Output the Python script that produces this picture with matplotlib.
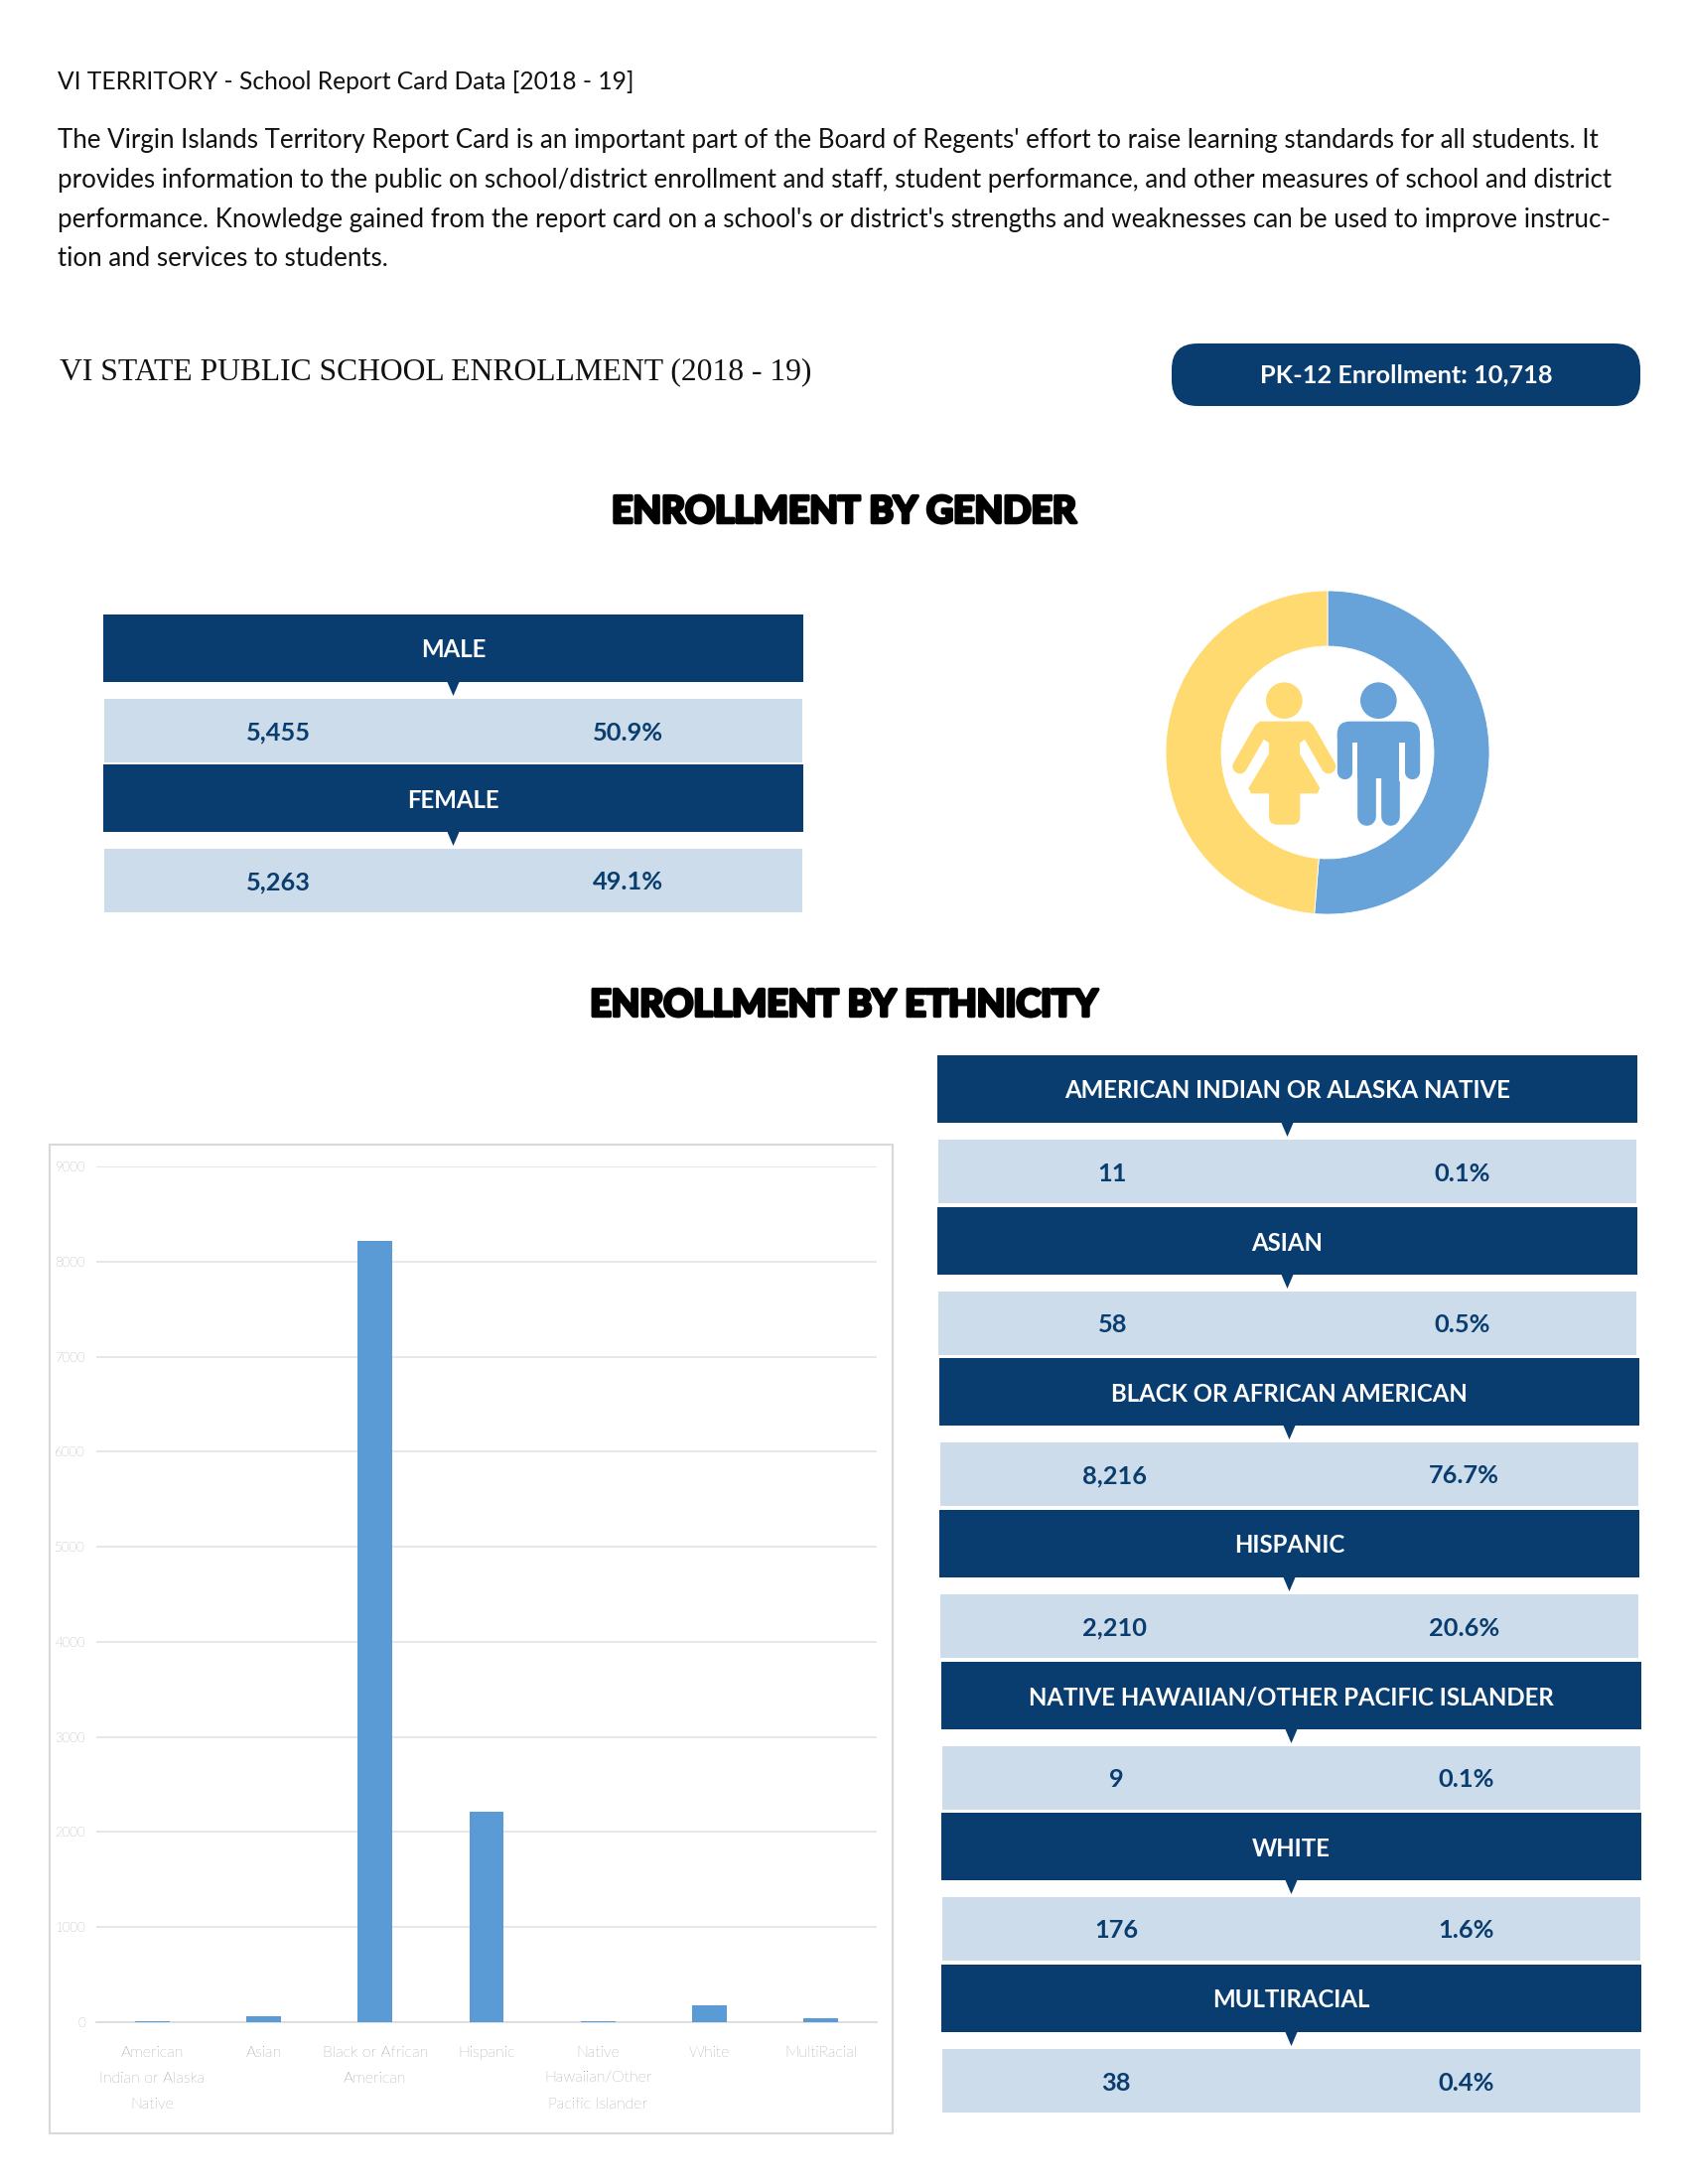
import matplotlib
matplotlib.use('Agg')
import matplotlib.pyplot as plt
import matplotlib.patheffects as pe
from matplotlib.patches import Rectangle, Polygon, Circle, FancyBboxPatch

NAVY = '#093D70'
LIGHT = '#CDDCEA'
DONUT_BLUE = '#67A2D8'
DONUT_YELLOW = '#FFDA70'
BODY = ['Lato', 'DejaVu Sans']

intro_lines = [
    "The Virgin Islands Territory Report Card is an important part of the Board of Regents' effort to raise learning standards for all students. It",
    "provides information to the public on school/district enrollment and staff, student performance, and other measures of school and district",
    "performance. Knowledge gained from the report card on a school's or district's strengths and weaknesses can be used to improve instruc-",
    "tion and services to students.",
]

gender_names = ['MALE', 'FEMALE']
gender_counts = [5455, 5263]
gender_pcts = ['50.9%', '49.1%']
# the ring in the picture is drawn a little past the printed split
donut_shares = [51.3, 48.7]

eth_names = ['AMERICAN INDIAN OR ALASKA NATIVE', 'ASIAN', 'BLACK OR AFRICAN AMERICAN', 'HISPANIC',
             'NATIVE HAWAIIAN/OTHER PACIFIC ISLANDER', 'WHITE', 'MULTIRACIAL']
eth_labels = ['American\nIndian or Alaska\nNative', 'Asian', 'Black or African\nAmerican', 'Hispanic',
              'Native\nHawaiian/Other\nPacific Islander', 'White', 'MultiRacial']
eth_counts = [11, 58, 8216, 2210, 9, 176, 38]
eth_pcts = ['0.1%', '0.5%', '76.7%', '20.6%', '0.1%', '1.6%', '0.4%']
y_ticks = [0, 1000, 2000, 3000, 4000, 5000, 6000, 7000, 8000, 9000]

W, H = 1700, 2200


def px_lw(px):
    return px * 0.72


def stat_block(page, name, count, pct, left, right, top):
    # one dark header with its pointer, then the pale row under it
    mid = (left + right) / 2
    page.add_patch(Rectangle((left, top), right - left, 68, fc=NAVY, ec='none'))
    page.add_patch(Polygon([(mid - 6, top + 68), (mid + 6, top + 68), (mid, top + 82)], fc=NAVY, ec='none'))
    page.add_patch(Rectangle((left + 1, top + 84.5), right - left - 2, 64.5, fc=LIGHT, ec='none'))
    page.text(mid, top + 36, name, color='white', fontsize=17.3, fontweight='bold', family=BODY,
              ha='center', va='center')
    page.text(left + 0.25 * (right - left), top + 119, format(count, ','), color=NAVY, fontsize=18.3,
              fontweight='bold', family=BODY, ha='center', va='center')
    page.text(left + 0.75 * (right - left), top + 119, pct, color=NAVY, fontsize=18.3,
              fontweight='bold', family=BODY, ha='center', va='center')


def draw_people(page):
    def p(x, y):
        return 1120 + x / 3, 560 + y / 3

    def limb(a, b, width, color):
        page.plot(*zip(p(*a), p(*b)), color=color, lw=px_lw(width / 3), solid_capstyle='round', zorder=3)

    # female
    page.add_patch(Circle(p(520, 437), 55 / 3, fc=DONUT_YELLOW, ec='none', zorder=3))
    page.add_patch(Polygon([p(445, 500), p(595, 500), p(615, 530), p(568, 565), p(568, 600), p(628, 702),
                            p(620, 718), p(420, 718), p(412, 702), p(473, 600), p(473, 565), p(425, 530)],
                           fc=DONUT_YELLOW, ec='none', zorder=3))
    x0, y0 = p(474, 700)
    x1, y1 = p(568, 812)
    page.add_patch(FancyBboxPatch((x0, y0), x1 - x0, y1 - y0, boxstyle='round,pad=0,rounding_size=8',
                                  fc=DONUT_YELLOW, ec='none', zorder=3))
    limb((450, 525), (386, 636), 44, DONUT_YELLOW)
    limb((590, 525), (654, 636), 44, DONUT_YELLOW)
    page.add_patch(Polygon([p(473, 565), p(458, 563), p(440, 590), p(473, 600)], fc='white', ec='none', zorder=4))
    page.add_patch(Polygon([p(568, 565), p(582, 563), p(600, 590), p(568, 600)], fc='white', ec='none', zorder=4))
    # male
    page.add_patch(Circle(p(805, 437), 55 / 3, fc=DONUT_BLUE, ec='none', zorder=3))
    x0, y0 = p(680, 500)
    x1, y1 = p(930, 590)
    page.add_patch(FancyBboxPatch((x0, y0), x1 - x0, y1 - y0, boxstyle='round,pad=0,rounding_size=13',
                                  fc=DONUT_BLUE, ec='none', zorder=3))
    limb((703, 560), (703, 650), 46, DONUT_BLUE)
    limb((907, 560), (907, 650), 46, DONUT_BLUE)
    limb((769, 600), (769, 785), 56, DONUT_BLUE)
    limb((841, 600), (841, 785), 56, DONUT_BLUE)
    page.add_patch(Polygon([p(742, 540), p(868, 540), p(868, 672), p(742, 672)], fc=DONUT_BLUE, ec='none', zorder=3))
    page.add_patch(Polygon([p(727, 563), p(742, 563), p(742, 680), p(727, 680)], fc='white', ec='none', zorder=4))
    page.add_patch(Polygon([p(868, 563), p(884, 563), p(884, 680), p(868, 680)], fc='white', ec='none', zorder=4))


def main():
    fig = plt.figure(figsize=(W / 100, H / 100), dpi=100, facecolor='white')

    page = fig.add_axes([0, 0, 1, 1])
    page.set_xlim(0, W)
    page.set_ylim(H, 0)
    page.axis('off')

    page.text(58, 83, 'VI TERRITORY - School Report Card Data [2018 - 19]', fontsize=17.7, family=BODY,
              color='#111111', va='center')
    for text, y in zip(intro_lines, [141, 181, 221, 261]):
        page.text(58, y, text, fontsize=18.6, family=BODY, color='#111111', va='center')
    page.text(60, 375, 'VI STATE PUBLIC SCHOOL ENROLLMENT (2018 - 19)', fontsize=22.8, family=['Liberation Serif'],
              color='#111111', va='center')

    page.add_patch(FancyBboxPatch((1180, 346), 472, 63, boxstyle='round,pad=0,rounding_size=26', fc=NAVY, ec='none'))
    page.text(1416, 378, 'PK-12 Enrollment: 10,718', color='white', fontsize=18.3, fontweight='bold', family=BODY,
              ha='center', va='center')

    for text, y in [('ENROLLMENT BY GENDER', 516), ('ENROLLMENT BY ETHNICITY', 1013)]:
        page.text(850, y, text, fontsize=26.8, fontweight='bold', family=BODY, color='black', ha='center', va='center',
                  path_effects=[pe.withStroke(linewidth=2.5, foreground='black')])

    for name, count, pct, top in zip(gender_names, gender_counts, gender_pcts, [619, 770]):
        stat_block(page, name, count, pct, 104, 809, top)

    eth_tops = [1063, 1216, 1368, 1521, 1674, 1826, 1979]
    eth_left = [944, 944, 946, 946, 948, 948, 948]
    for name, count, pct, top, left in zip(eth_names, eth_counts, eth_pcts, eth_tops, eth_left):
        stat_block(page, name, count, pct, left, left + 705, top)

    # chart frame
    page.add_patch(Rectangle((50, 1153), 849, 996, fc='white', ec='#D9D9D9', lw=px_lw(2.2), zorder=1))
    draw_people(page)

    # donut, male first going clockwise from the top
    donut = fig.add_axes([(1337 - 163) / W, 1 - (758 + 163) / H, 326 / W, 326 / H])
    donut.pie(donut_shares, colors=[DONUT_BLUE, DONUT_YELLOW], startangle=90, counterclock=False, radius=1,
              wedgeprops={'width': 56 / 163, 'edgecolor': 'white', 'linewidth': 0.6})
    donut.set_xlim(-1, 1)
    donut.set_ylim(-1, 1)
    donut.patch.set_alpha(0)

    # bar chart
    ax = fig.add_axes([97 / W, 1 - 2037 / H, 786 / W, 862 / H])
    ax.patch.set_alpha(0)
    ax.bar(range(len(eth_counts)), eth_counts, width=0.31, color='#5B9BD5', zorder=3)
    ax.set_xlim(-0.5, len(eth_counts) - 0.5)
    ax.set_ylim(0, 9000)
    ax.set_yticks(y_ticks)
    ax.set_xticks(range(len(eth_counts)))
    ax.set_xticklabels(eth_labels, family=BODY, fontsize=11.4, fontweight='light', color='#595959', linespacing=2.1)
    for label in ax.get_yticklabels():
        label.set_family(BODY)
        label.set_fontsize(9.5)
        label.set_fontweight('light')
        label.set_color('#595959')
    ax.tick_params(axis='x', length=0, pad=17)
    ax.tick_params(axis='y', length=0, pad=8)
    ax.yaxis.grid(True, color='#E2E2E2', lw=px_lw(1.6), zorder=0)
    for side in ['top', 'right', 'left']:
        ax.spines[side].set_visible(False)
    ax.spines['bottom'].set_color('#D9D9D9')
    ax.spines['bottom'].set_linewidth(px_lw(1.6))

    plt.savefig('out.png', dpi=100)


if __name__ == "__main__":
    main()
